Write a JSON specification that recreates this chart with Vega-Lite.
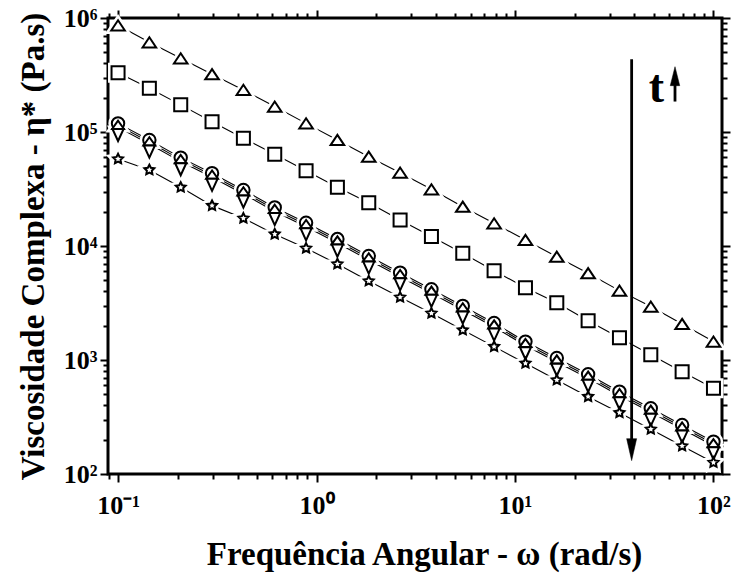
{
  "$schema": "https://vega.github.io/schema/vega-lite/v6.json",
  "width": 614,
  "height": 456,
  "autosize": "none",
  "padding": {"left": 108, "top": 18, "right": 9, "bottom": 105},
  "background": "white",
  "config": {
    "view": {"stroke": "black", "strokeWidth": 3},
    "axis": {
      "domain": false,
      "grid": false,
      "tickColor": "black",
      "tickWidth": 2,
      "labelFont": "Liberation Serif",
      "labelFontWeight": "bold",
      "labelFontSize": 26,
      "labelColor": "black",
      "labelOverlap": false,
      "labelFlush": false,
      "titleFont": "Liberation Serif",
      "titleFontWeight": "bold",
      "titleFontSize": 33,
      "titleColor": "black"
    }
  },
  "datasets": {
    "eta": [
      {"w": 0.1, "A": 863000, "B": 331000, "C": 119000, "D": 114300, "E": 109800, "F": 58000},
      {"w": 0.1438, "A": 612000, "B": 242000, "C": 85100, "D": 81750, "E": 78510, "F": 46500},
      {"w": 0.2069, "A": 443000, "B": 173000, "C": 59600, "D": 57250, "E": 54980, "F": 32700},
      {"w": 0.2976, "A": 321000, "B": 123000, "C": 43500, "D": 41790, "E": 40130, "F": 22600},
      {"w": 0.4281, "A": 234000, "B": 88100, "C": 31000, "D": 29780, "E": 28600, "F": 17500},
      {"w": 0.6158, "A": 167000, "B": 63700, "C": 21800, "D": 20940, "E": 20110, "F": 12700},
      {"w": 0.8859, "A": 119000, "B": 45800, "C": 16000, "D": 15370, "E": 14760, "F": 9550},
      {"w": 1.274, "A": 85100, "B": 32700, "C": 11500, "D": 11050, "E": 10610, "F": 6950},
      {"w": 1.833, "A": 60700, "B": 24000, "C": 8170, "D": 7848, "E": 7537, "F": 4930},
      {"w": 2.637, "A": 44000, "B": 16900, "C": 5830, "D": 5600, "E": 5378, "F": 3550},
      {"w": 3.793, "A": 31400, "B": 12100, "C": 4170, "D": 4006, "E": 3847, "F": 2570},
      {"w": 5.456, "A": 22100, "B": 8630, "C": 2980, "D": 2863, "E": 2749, "F": 1830},
      {"w": 7.848, "A": 15800, "B": 6070, "C": 2110, "D": 2027, "E": 1946, "F": 1310},
      {"w": 11.29, "A": 11300, "B": 4310, "C": 1450, "D": 1393, "E": 1338, "F": 935},
      {"w": 16.24, "A": 8050, "B": 3180, "C": 1040, "D": 999, "E": 959, "F": 668},
      {"w": 23.36, "A": 5770, "B": 2210, "C": 750, "D": 720, "E": 692, "F": 477},
      {"w": 33.6, "A": 4060, "B": 1570, "C": 527, "D": 506, "E": 486, "F": 345},
      {"w": 48.33, "A": 2940, "B": 1110, "C": 377, "D": 362, "E": 348, "F": 247},
      {"w": 69.52, "A": 2070, "B": 789, "C": 269, "D": 258, "E": 248, "F": 176},
      {"w": 100, "A": 1450, "B": 565, "C": 192, "D": 184, "E": 177, "F": 126}
    ],
    "arrow": [{"w": 38.7, "top": 435000, "base": 199, "tip": 131}],
    "tmark": [{"w": 64, "bottom": 185000, "base": 258000, "tip": 374000, "lw": 51.6, "label": "t"}]
  },
  "resolve": {"axis": {"x": "independent", "y": "independent"}},
  "layer": [
    {
      "data": {"name": "eta"},
      "transform": [{"fold": ["A", "B", "C", "D", "E", "F"], "as": ["s", "eta"]}],
      "mark": {"type": "line", "color": "black", "strokeWidth": 1.1},
      "encoding": {
        "x": {
          "field": "w", "type": "quantitative",
          "scale": {"type": "log", "domain": [0.089, 110.4], "nice": false},
          "axis": {
            "orient": "bottom",
            "title": "Frequência Angular - ω (rad/s)",
            "titlePadding": 20,
            "titleX": 316,
            "labelPadding": 10,
            "values": [0.09, 0.1, 0.2, 0.3, 0.4, 0.5, 0.6, 0.7, 0.8, 0.9, 1, 2, 3, 4, 5, 6, 7, 8, 9, 10, 20, 30, 40, 50, 60, 70, 80, 90, 100],
            "labelExpr": "datum.value == 0.1 ? '10⁻¹' : datum.value == 1 ? '10⁰' : datum.value == 10 ? '10¹' : datum.value == 100 ? '10²' : ''",
            "tickSize": {"condition": {"test": "indexof([0.1, 1, 10, 100], datum.value) >= 0", "value": 8}, "value": 5}
          }
        },
        "y": {
          "field": "eta", "type": "quantitative",
          "scale": {"type": "log", "domain": [100, 1000000], "nice": false},
          "axis": {
            "orient": "left",
            "title": "Viscosidade Complexa - η* (Pa.s)",
            "titlePadding": 13,
            "labelPadding": 3,
            "values": [100, 200, 300, 400, 500, 600, 700, 800, 900, 1000, 2000, 3000, 4000, 5000, 6000, 7000, 8000, 9000, 10000, 20000, 30000, 40000, 50000, 60000, 70000, 80000, 90000, 100000, 200000, 300000, 400000, 500000, 600000, 700000, 800000, 900000, 1000000],
            "labelExpr": "datum.value == 100 ? '10²' : datum.value == 1000 ? '10³' : datum.value == 10000 ? '10⁴' : datum.value == 100000 ? '10⁵' : datum.value == 1000000 ? '10⁶' : ''",
            "tickSize": {"condition": {"test": "indexof([100, 1000, 10000, 100000, 1000000], datum.value) >= 0", "value": 8}, "value": 5}
          }
        },
        "detail": {"field": "s", "type": "nominal"}
      }
    },
    {
      "data": {"name": "eta"},
      "transform": [{"fold": ["A", "B", "C", "D", "E", "F"], "as": ["s", "eta"]}],
      "mark": {"type": "point", "fill": "white", "stroke": "white", "strokeWidth": 7, "fillOpacity": 1, "opacity": 1},
      "encoding": {
        "x": {"field": "w", "type": "quantitative", "scale": {"type": "log", "domain": [0.089, 110.4], "nice": false}, "axis": null},
        "y": {"field": "eta", "type": "quantitative", "scale": {"type": "log", "domain": [100, 1000000], "nice": false}, "axis": null},
        "shape": {"field": "s", "type": "nominal", "legend": null, "scale": {"domain": ["A", "B", "C", "D", "E", "F"], "range": ["M0,-0.75L-1,0.75L1,0.75Z", "square", "circle", "M0,-0.8L-1,0.6L1,0.6Z", "M-1,0.28L1,0.28L0,2.46Z", "M0,-1L0.294,-0.405L0.951,-0.309L0.476,0.155L0.588,0.809L0,0.5L-0.588,0.809L-0.476,0.155L-0.951,-0.309L-0.294,-0.405Z"]}},
        "size": {"field": "s", "type": "ordinal", "legend": null, "scale": {"domain": ["A", "B", "C", "D", "E", "F"], "range": [185, 108, 112, 150, 136, 185]}}
      }
    },
    {
      "data": {"name": "eta"},
      "transform": [{"fold": ["A", "B", "C", "D", "E", "F"], "as": ["s", "eta"]}],
      "mark": {"type": "point", "fill": "white", "stroke": "black", "fillOpacity": 1, "opacity": 1},
      "encoding": {
        "x": {"field": "w", "type": "quantitative", "scale": {"type": "log", "domain": [0.089, 110.4], "nice": false}, "axis": null},
        "y": {"field": "eta", "type": "quantitative", "scale": {"type": "log", "domain": [100, 1000000], "nice": false}, "axis": null},
        "shape": {"field": "s", "type": "nominal", "legend": null, "scale": {"domain": ["A", "B", "C", "D", "E", "F"], "range": ["M0,-0.75L-1,0.75L1,0.75Z", "square", "circle", "M0,-0.8L-1,0.6L1,0.6Z", "M-1,0.28L1,0.28L0,2.46Z", "M0,-1L0.294,-0.405L0.951,-0.309L0.476,0.155L0.588,0.809L0,0.5L-0.588,0.809L-0.476,0.155L-0.951,-0.309L-0.294,-0.405Z"]}},
        "size": {"field": "s", "type": "ordinal", "legend": null, "scale": {"domain": ["A", "B", "C", "D", "E", "F"], "range": [185, 108, 112, 150, 136, 185]}},
        "strokeWidth": {"field": "s", "type": "ordinal", "legend": null, "scale": {"domain": ["A", "B", "C", "D", "E", "F"], "range": [2, 2, 2, 2, 2, 1.6]}}
      }
    },
    {
      "data": {"name": "arrow"},
      "mark": {"type": "rule", "color": "black", "strokeWidth": 2.8},
      "encoding": {
        "x": {"field": "w", "type": "quantitative", "scale": {"type": "log", "domain": [0.089, 110.4], "nice": false}, "axis": null},
        "y": {"field": "top", "type": "quantitative", "scale": {"type": "log", "domain": [100, 1000000], "nice": false}, "axis": null},
        "y2": {"field": "base"}
      }
    },
    {
      "data": {"name": "arrow"},
      "mark": {"type": "point", "shape": "M0,0L-1,-4.4L1,-4.4Z", "size": 100, "fill": "black", "stroke": "black", "strokeWidth": 0.5, "fillOpacity": 1, "opacity": 1},
      "encoding": {
        "x": {"field": "w", "type": "quantitative", "scale": {"type": "log", "domain": [0.089, 110.4], "nice": false}, "axis": null},
        "y": {"field": "tip", "type": "quantitative", "scale": {"type": "log", "domain": [100, 1000000], "nice": false}, "axis": null}
      }
    },
    {
      "data": {"name": "tmark"},
      "mark": {"type": "rule", "color": "black", "strokeWidth": 2.8},
      "encoding": {
        "x": {"field": "w", "type": "quantitative", "scale": {"type": "log", "domain": [0.089, 110.4], "nice": false}, "axis": null},
        "y": {"field": "bottom", "type": "quantitative", "scale": {"type": "log", "domain": [100, 1000000], "nice": false}, "axis": null},
        "y2": {"field": "base"}
      }
    },
    {
      "data": {"name": "tmark"},
      "mark": {"type": "point", "shape": "M0,0L-1,4L1,4Z", "size": 90, "fill": "black", "stroke": "black", "strokeWidth": 0.5, "fillOpacity": 1, "opacity": 1},
      "encoding": {
        "x": {"field": "w", "type": "quantitative", "scale": {"type": "log", "domain": [0.089, 110.4], "nice": false}, "axis": null},
        "y": {"field": "tip", "type": "quantitative", "scale": {"type": "log", "domain": [100, 1000000], "nice": false}, "axis": null}
      }
    },
    {
      "data": {"name": "tmark"},
      "mark": {"type": "text", "font": "Liberation Serif", "fontWeight": "bold", "fontSize": 46, "align": "center", "baseline": "alphabetic", "color": "black"},
      "encoding": {
        "x": {"field": "lw", "type": "quantitative", "scale": {"type": "log", "domain": [0.089, 110.4], "nice": false}, "axis": null},
        "y": {"field": "bottom", "type": "quantitative", "scale": {"type": "log", "domain": [100, 1000000], "nice": false}, "axis": null},
        "text": {"field": "label"}
      }
    },
    {
      "data": {"name": "arrow"},
      "mark": {"type": "point", "opacity": 0},
      "encoding": {
        "x": {
          "field": "w", "type": "quantitative",
          "scale": {"type": "log", "domain": [0.089, 110.4], "nice": false},
          "axis": {
            "orient": "top", "title": null, "labels": false,
            "values": [0.09, 0.1, 0.2, 0.3, 0.4, 0.5, 0.6, 0.7, 0.8, 0.9, 1, 2, 3, 4, 5, 6, 7, 8, 9, 10, 20, 30, 40, 50, 60, 70, 80, 90, 100],
            "tickSize": {"condition": {"test": "indexof([0.1, 1, 10, 100], datum.value) >= 0", "value": 8}, "value": 5}
          }
        },
        "y": {
          "field": "top", "type": "quantitative",
          "scale": {"type": "log", "domain": [100, 1000000], "nice": false},
          "axis": {
            "orient": "right", "title": null, "labels": false,
            "values": [100, 200, 300, 400, 500, 600, 700, 800, 900, 1000, 2000, 3000, 4000, 5000, 6000, 7000, 8000, 9000, 10000, 20000, 30000, 40000, 50000, 60000, 70000, 80000, 90000, 100000, 200000, 300000, 400000, 500000, 600000, 700000, 800000, 900000, 1000000],
            "tickSize": {"condition": {"test": "indexof([100, 1000, 10000, 100000, 1000000], datum.value) >= 0", "value": 8}, "value": 5}
          }
        }
      }
    }
  ]
}
